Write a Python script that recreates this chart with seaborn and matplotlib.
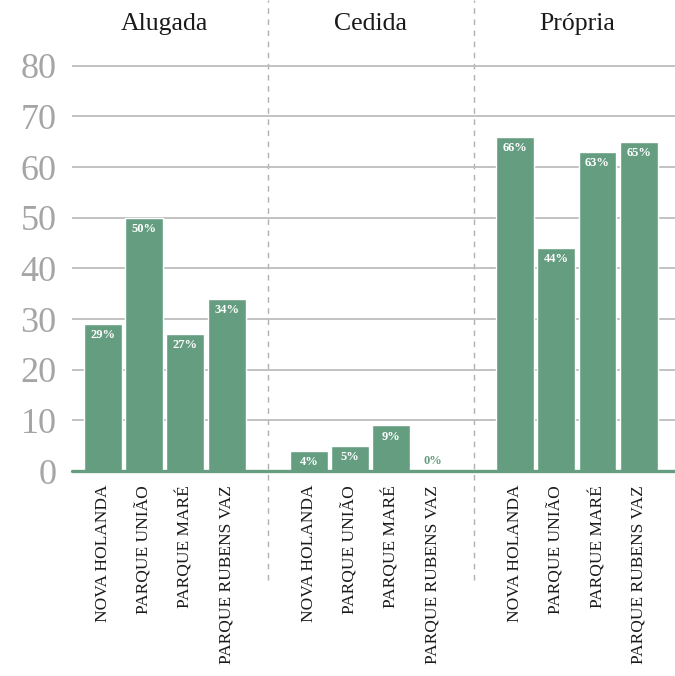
import pandas as pd
import seaborn as sns
import matplotlib.pyplot as plt

# Dados
tipos = ['Alugada', 'Cedida', 'Própria']
bairros = ['NOVA HOLANDA', 'PARQUE UNIÃO', 'PARQUE MARÉ', 'PARQUE RUBENS VAZ']
alugada = [29, 50, 27, 34]
cedida = [4, 5, 9, 0]
propria = [66, 44, 63, 65]
yticks = [0, 10, 20, 30, 40, 50, 60, 70, 80]

verde = '#659d80'
serif = 'Liberation Serif'

rows = []
for g, (tipo, vals) in enumerate(zip(tipos, [alugada, cedida, propria])):
    for i, (b, v) in enumerate(zip(bairros, vals)):
        rows.append({'tipo': tipo, 'bairro': b, 'valor': v, 'pos': g * 5 + i})
df = pd.DataFrame(rows)

sns.set_style('white')
plt.rcParams['font.family'] = [serif, 'DejaVu Serif']

fig = plt.figure(figsize=(6.75, 6.76), dpi=100)
ax = fig.add_axes([72 / 675, 1 - 471 / 676, 1 - 72 / 675, 471 / 676])

sns.barplot(data=df, x='pos', y='valor', native_scale=True, color=verde,
            saturation=1, width=0.92, errorbar=None, ax=ax)

ax.set_xlim(-0.75, 13.88)
ax.set_ylim(0, 93)
ax.set_yticks(yticks)
ax.set_yticklabels([str(t) for t in yticks], fontsize=26, color='#a5a5a5')
ax.yaxis.grid(True, color='#bdbdbd', linewidth=1.3)
ax.set_axisbelow(True)
ax.tick_params(axis='both', length=0)
ax.tick_params(axis='y', pad=11)
ax.tick_params(axis='x', pad=10)
ax.set_xticks(df['pos'])
ax.set_xticklabels(df['bairro'], rotation=90, fontsize=12.5, color='#1a1a1a')
ax.set_xlabel('')
ax.set_ylabel('')
for s in ax.spines.values():
    s.set_visible(False)

ax.axhline(0, color=verde, linewidth=2.4, zorder=3, clip_on=False)

# separadores tracejados
for x in [4, 9]:
    ax.plot([x, x], [-21.5, 93], color='#b0b0b0', linewidth=1, linestyle=(0, (4, 4)),
            clip_on=False, zorder=0)

# títulos dos grupos
for g, tipo in enumerate(tipos):
    ax.text(g * 5 + 1.5, 88.3, tipo, ha='center', va='center', fontsize=18.5, color='#1a1a1a')

# rótulos dos valores
for p, v in zip(ax.patches, df['valor']):
    x = p.get_x() + p.get_width() / 2
    h = p.get_height()
    if h > 3:
        ax.annotate(f'{v}%', (x, h), xytext=(0, -8), textcoords='offset points',
                    ha='center', va='center', fontsize=9, fontweight='bold', color='white')
    else:
        ax.annotate(f'{v}%', (x, h), xytext=(0, 7), textcoords='offset points',
                    ha='center', va='center', fontsize=9, fontweight='bold', color=verde)

fig.savefig('out.png', dpi=100)
